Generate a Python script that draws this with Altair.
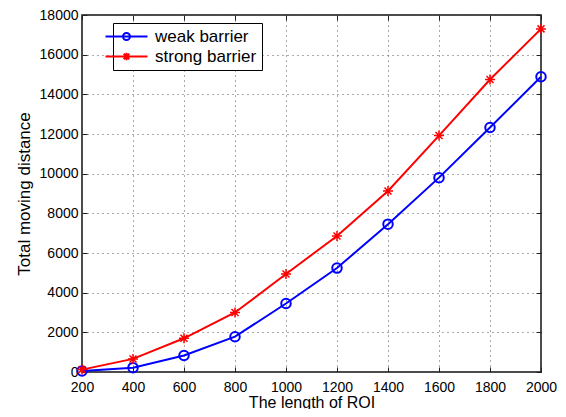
import altair as alt
import pandas as pd

# ---- data ----
roi = [200, 400, 600, 800, 1000, 1200, 1400, 1600, 1800, 2000]
weak = [50, 220, 830, 1780, 3455, 5240, 7455, 9800, 12330, 14885]
strong = [120, 660, 1700, 3000, 4940, 6860, 9125, 11920, 14750, 17300]
series_names = ["weak barrier", "strong barrier"]
colors = ["#0000ff", "#ff0000"]
x_ticks = [200, 400, 600, 800, 1000, 1200, 1400, 1600, 1800, 2000]
y_ticks = [0, 2000, 4000, 6000, 8000, 10000, 12000, 14000, 16000, 18000]

df = pd.DataFrame({
    "roi": roi * 2,
    "dist": weak + strong,
    "series": [series_names[0]] * len(roi) + [series_names[1]] * len(roi),
})

FONT = "Liberation Sans"
STAR = "M-1,0L1,0M0,-1L0,1M-0.7,-0.7L0.7,0.7M-0.7,0.7L0.7,-0.7"
LEG_CIRCLE = "M-6,0L6,0M-1,0A1,1 0 1,0 1,0A1,1 0 1,0 -1,0"
LEG_STAR = "M-6,0L6,0M-1.1,0L1.1,0M0,-1.1L0,1.1M-0.8,-0.8L0.8,0.8M-0.8,0.8L0.8,-0.8"

xscale = alt.Scale(domain=[200, 2000], nice=False, zero=False)
yscale = alt.Scale(domain=[0, 18000], nice=False)
inward = alt.ExprRef(expr="-5")

base = alt.Chart(df)

x_bottom = alt.X("roi:Q", scale=xscale, axis=alt.Axis(
    values=x_ticks, title="The length of ROI", grid=True, gridDash=[1, 4],
    gridColor="#555555", gridOpacity=1, domain=False, tickSize=inward,
    tickColor="#222222", labelPadding=13, titlePadding=0, format="d",
    labelFlush=False, titleFontSize=16))
y_left = alt.Y("dist:Q", scale=yscale, axis=alt.Axis(
    values=y_ticks, title="Total moving distance", grid=True, gridDash=[1, 4],
    gridColor="#555555", gridOpacity=1, domain=False, tickSize=inward,
    tickColor="#222222", labelPadding=9, titlePadding=6, format="d",
    labelFlush=False))
x_top = alt.X("roi:Q", scale=xscale, axis=alt.Axis(
    orient="top", values=x_ticks, labels=False, title=None, grid=False,
    domain=False, tickSize=inward, tickColor="#222222"))
y_right = alt.Y("dist:Q", scale=yscale, axis=alt.Axis(
    orient="right", values=y_ticks, labels=False, title=None, grid=False,
    domain=False, tickSize=inward, tickColor="#222222"))
x_none = alt.X("roi:Q", scale=xscale, axis=None)
y_none = alt.Y("dist:Q", scale=yscale, axis=None)

line_weak = base.transform_filter(alt.datum.series == series_names[0]).mark_line(
    color=colors[0], strokeWidth=2).encode(x=x_bottom, y=y_left)
pts_weak = base.transform_filter(alt.datum.series == series_names[0]).mark_point(
    shape="circle", size=90, filled=False, strokeWidth=2, color=colors[0], opacity=1
).encode(x=x_top, y=y_right)
line_strong = base.transform_filter(alt.datum.series == series_names[1]).mark_line(
    color=colors[1], strokeWidth=2).encode(x=x_none, y=y_none)
pts_strong = base.transform_filter(alt.datum.series == series_names[1]).mark_point(
    shape=STAR, size=100, filled=False, strokeWidth=1.5, color=colors[1], opacity=1
).encode(x=x_none, y=y_none)

leg = dict(
    title=None, orient="none", legendX=31, legendY=8, direction="vertical",
    strokeColor="black", fillColor="white", padding=5, cornerRadius=0,
    symbolSize=49, symbolStrokeWidth=2, symbolOpacity=1,
    labelFont=FONT, labelFontSize=17, labelColor="black", labelOffset=20,
    rowPadding=2,
)
legend_layer = base.mark_point(opacity=0, filled=False).encode(
    x=x_none, y=y_none,
    color=alt.Color("series:N", scale=alt.Scale(domain=series_names, range=colors),
                    legend=alt.Legend(**leg)),
    shape=alt.Shape("series:N", scale=alt.Scale(domain=series_names, range=[LEG_CIRCLE, LEG_STAR]),
                    legend=alt.Legend(**leg)),
)

chart = alt.layer(line_weak, pts_weak, line_strong, pts_strong, legend_layer).resolve_axis(
    x="independent", y="independent"
).properties(
    width=459, height=357,
    autosize=alt.AutoSizeParams(type="none"),
    padding={"left": 74, "top": 7, "right": 17, "bottom": 37},
    background="white",
).configure_view(
    stroke="#111111", strokeWidth=1.5
).configure_axis(
    labelFont=FONT, labelFontSize=14, labelColor="black",
    titleFont=FONT, titleFontSize=17, titleColor="black", titleFontWeight="normal",
)

chart.save("out.html", embed_options={"renderer": "svg", "actions": False})
